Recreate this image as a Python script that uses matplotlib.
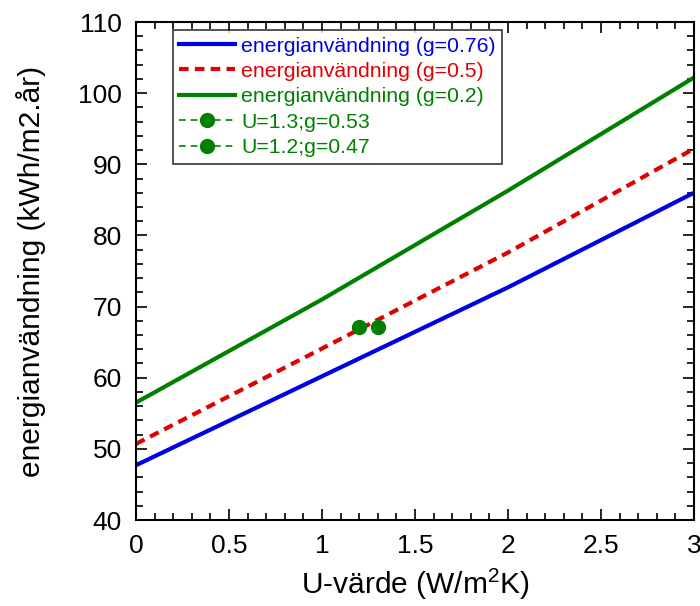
import matplotlib
matplotlib.use("Agg")
import matplotlib.pyplot as plt
from matplotlib.ticker import MultipleLocator

plt.rcParams["font.family"] = ["Liberation Sans", "DejaVu Sans"]
plt.rcParams["mathtext.fontset"] = "custom"
plt.rcParams["mathtext.rm"] = "Liberation Sans"

# U-value grid and energy use per g-value
u_values = [0, 1, 2, 3]
energy_g076 = [47.7, 60.2, 72.7, 86.0]
energy_g05 = [50.7, 64.1, 77.6, 92.2]
energy_g02 = [56.5, 71.0, 86.3, 102.2]

# single window points
point_labels = ["U=1.3;g=0.53", "U=1.2;g=0.47"]
point_u = [1.3, 1.2]
point_energy = [67.1, 67.1]

GREEN = "#008000"

fig = plt.figure(figsize=(7.0, 6.06), dpi=100)
ax = fig.add_axes([136 / 700, 1 - 520 / 606, 558 / 700, 498 / 606])

ax.plot(u_values, energy_g076, color="#0000e6", lw=3, label="energianvändning (g=0.76)")
ax.plot(u_values, energy_g05, color="#e00000", lw=3, ls=(0, (2.3, 1.5)), label="energianvändning (g=0.5)")
ax.plot(u_values, energy_g02, color=GREEN, lw=3, label="energianvändning (g=0.2)")
for lab, u, e in zip(point_labels, point_u, point_energy):
    ax.plot([u], [e], color=GREEN, ls=(0, (4, 3)), lw=1.2, marker="o", markersize=10, label=lab)

ax.set_xlim(0, 3)
ax.set_ylim(40, 110)
ax.xaxis.set_minor_locator(MultipleLocator(0.1))
ax.yaxis.set_major_locator(MultipleLocator(10))
ax.yaxis.set_minor_locator(MultipleLocator(2))
ax.set_xticks([0, 0.5, 1, 1.5, 2, 2.5, 3])
ax.set_xticklabels(["0", "0.5", "1", "1.5", "2", "2.5", "3"])
ax.tick_params(which="both", direction="in", top=True, right=True, width=1.2, labelsize=19)
ax.tick_params(axis="x", pad=10)
ax.tick_params(axis="y", pad=10)
ax.tick_params(which="major", length=8)
ax.tick_params(which="minor", length=5)
for sp in ax.spines.values():
    sp.set_linewidth(1.5)

ax.set_xlabel("U-värde (W/m$^{2}$K)", fontsize=21.5, labelpad=6)
ax.set_ylabel("energianvändning (kWh/m2.år)", fontsize=21.5, labelpad=23)

leg = ax.legend(loc="upper left", bbox_to_anchor=(0.066, 0.984), fontsize=15.3,
                frameon=True, fancybox=False, edgecolor="black", handlelength=2.6,
                handletextpad=0.3, borderpad=0.31, labelspacing=0.3, borderaxespad=0)
leg.get_frame().set_linewidth(1.2)
for txt, line in zip(leg.get_texts(), leg.get_lines()):
    txt.set_color(line.get_color())

fig.savefig("out.png", dpi=100)
